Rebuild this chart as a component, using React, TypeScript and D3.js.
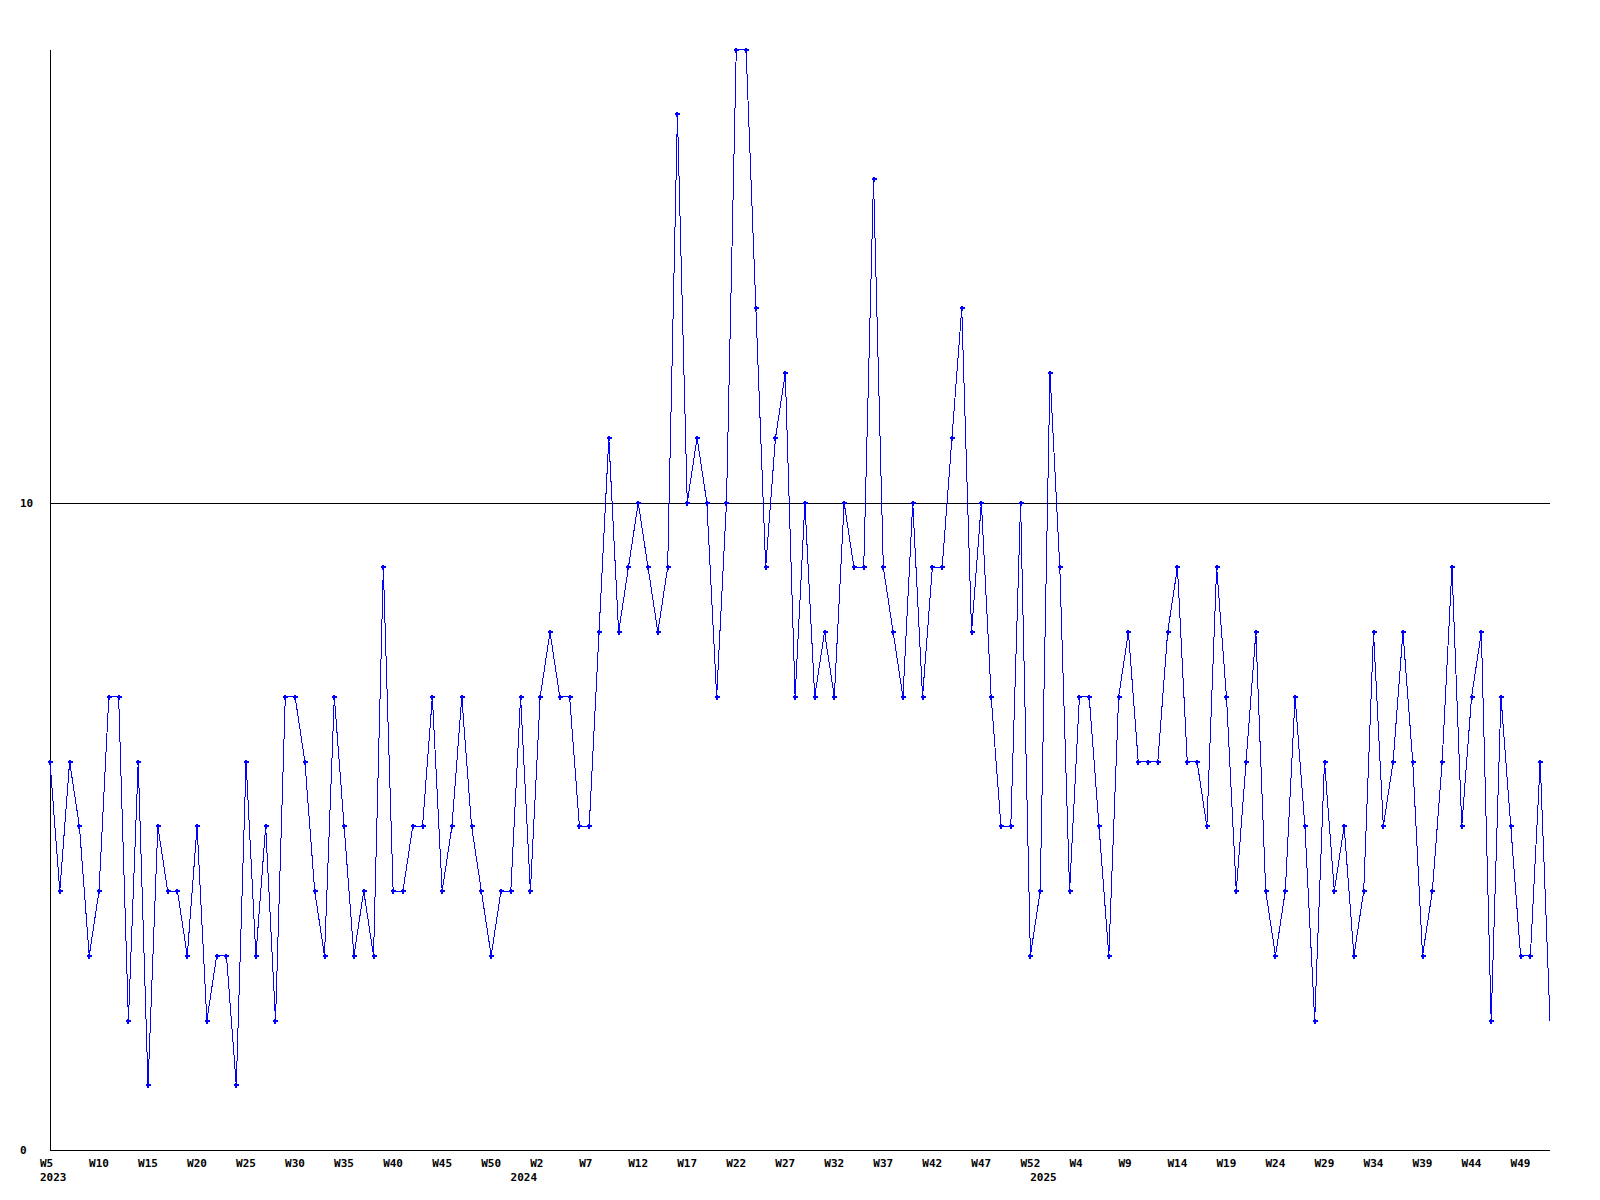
import React from "react";
import * as d3 from "d3";

const values: number[] = [
  6, 4, 6, 5, 3, 4, 7, 7, 2, 6,
  1, 5, 4, 4, 3, 5, 2, 3, 3, 1,
  6, 3, 5, 2, 7, 7, 6, 4, 3, 7,
  5, 3, 4, 3, 9, 4, 4, 5, 5, 7,
  4, 5, 7, 5, 4, 3, 4, 4, 7, 4,
  7, 8, 7, 7, 5, 5, 8, 11, 8, 9,
  10, 9, 8, 9, 16, 10, 11, 10, 7, 10,
  17, 17, 13, 9, 11, 12, 7, 10, 7, 8,
  7, 10, 9, 9, 15, 9, 8, 7, 10, 7,
  9, 9, 11, 13, 8, 10, 7, 5, 5, 10,
  3, 4, 12, 9, 4, 7, 7, 5, 3, 7,
  8, 6, 6, 6, 8, 9, 6, 6, 5, 9,
  7, 4, 6, 8, 4, 3, 4, 7, 5, 2,
  6, 4, 5, 3, 4, 8, 5, 6, 8, 6,
  3, 4, 6, 9, 5, 7, 8, 2, 7, 5,
  3, 3, 6, 2,
];

const weekLabels: string[] = [
  "W5", "W10", "W15", "W20", "W25", "W30", "W35", "W40", "W45", "W50",
  "W2", "W7", "W12", "W17", "W22", "W27", "W32", "W37", "W42", "W47",
  "W52", "W4", "W9", "W14", "W19", "W24", "W29", "W34", "W39", "W44", "W49",
];
const weekLabelStep = 5;

const yearLabels: string[] = ["2023", "2024", "2025"];
const yearLabelIndex: number[] = [0, 48, 101];

const yTicks: number[] = [0, 10];
const yMax = 17;

const W = 1600;
const H = 1200;
const left = 50;
const right = 1550;
const top = 49.5;
const bottom = 1150;
const font = "'DejaVu Sans Mono', 'Liberation Mono', monospace";

export default function App() {
  const x = d3.scaleLinear().domain([0, values.length - 1]).range([left, right]);
  const y = d3.scaleLinear().domain([0, yMax]).range([bottom, top]);
  const line = d3
    .line<number>()
    .x((_, i) => x(i))
    .y((d) => y(d));

  return (
    <svg
      width={W}
      height={H}
      style={{ position: "absolute", left: 0, top: 0, background: "#fff" }}
    >
      <rect x={0} y={0} width={W} height={H} fill="#fff" />
      {/* gridline at 10 */}
      {yTicks
        .filter((t) => t !== 0)
        .map((t) => (
          <line
            key={"g" + t}
            x1={left}
            x2={right}
            y1={Math.round(y(t)) + 0.5}
            y2={Math.round(y(t)) + 0.5}
            stroke="#000"
            strokeWidth={1}
            shapeRendering="crispEdges"
          />
        ))}
      {/* axes */}
      <line
        x1={left + 0.5}
        x2={left + 0.5}
        y1={top}
        y2={bottom + 0.5}
        stroke="#000"
        strokeWidth={1}
        shapeRendering="crispEdges"
      />
      <line
        x1={left}
        x2={right}
        y1={bottom + 0.5}
        y2={bottom + 0.5}
        stroke="#000"
        strokeWidth={1}
        shapeRendering="crispEdges"
      />
      {/* y labels */}
      {yTicks.map((t) => (
        <text
          key={"y" + t}
          x={20}
          y={y(t) + 4}
          fontFamily={font}
          fontWeight="bold"
          fontSize={11}
          fill="#000"
        >
          {t}
        </text>
      ))}
      {/* x labels */}
      {weekLabels.map((lab, k) => (
        <text
          key={"w" + k}
          x={x(k * weekLabelStep) - 10}
          y={1167}
          fontFamily={font}
          fontWeight="bold"
          fontSize={11}
          fill="#000"
        >
          {lab}
        </text>
      ))}
      {yearLabels.map((lab, k) => (
        <text
          key={"yr" + k}
          x={x(yearLabelIndex[k]) - 10}
          y={1181}
          fontFamily={font}
          fontWeight="bold"
          fontSize={11}
          fill="#000"
        >
          {lab}
        </text>
      ))}
      {/* data line */}
      <path
        d={line(values) || ""}
        fill="none"
        stroke="#0000ff"
        strokeWidth={1}
        shapeRendering="crispEdges"
      />
      {/* markers */}
      {values.slice(0, values.length - 1).map((v, i) => {
        const cx = Math.round(x(i));
        const cy = Math.round(y(v));
        return (
          <g key={"m" + i} fill="#0000ff" shapeRendering="crispEdges">
            <rect x={cx - 2} y={cy - 1} width={5} height={2} />
            <rect x={cx - 1} y={cy - 2} width={2} height={5} />
          </g>
        );
      })}
    </svg>
  );
}
